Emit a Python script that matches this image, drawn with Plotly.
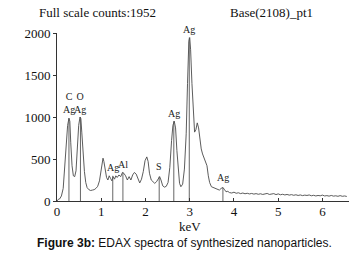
import plotly.graph_objects as go

# Spectrum (keV vs counts)
kev = [0.00, 0.03, 0.06, 0.10, 0.14, 0.18, 0.21, 0.24, 0.27, 0.29, 0.31, 0.34, 0.37, 0.40, 0.43,
       0.46, 0.49, 0.52, 0.54, 0.56, 0.59, 0.62, 0.65, 0.68, 0.72, 0.76, 0.80, 0.84, 0.88, 0.92,
       0.96, 0.99, 1.02, 1.04, 1.06, 1.09, 1.12, 1.15, 1.18, 1.21, 1.24, 1.27, 1.30, 1.33, 1.36,
       1.40, 1.44, 1.48, 1.51, 1.55, 1.59, 1.63, 1.67, 1.71, 1.75, 1.79, 1.83, 1.87, 1.91, 1.95,
       1.99, 2.03, 2.06, 2.09, 2.13, 2.17, 2.21, 2.25, 2.29, 2.32, 2.35, 2.39, 2.43, 2.47, 2.51,
       2.55, 2.59, 2.62, 2.65, 2.68, 2.71, 2.74, 2.77, 2.80, 2.84, 2.88, 2.92, 2.95, 2.98, 3.00,
       3.02, 3.05, 3.08, 3.11, 3.14, 3.17, 3.20, 3.23, 3.26, 3.29, 3.32, 3.36, 3.39, 3.42, 3.45,
       3.49, 3.53, 3.57, 3.62, 3.67, 3.71, 3.75, 3.78, 3.82, 3.86, 3.90, 3.95, 4.00, 4.05, 4.10,
       4.15, 4.20, 4.25, 4.30, 4.35, 4.40, 4.45, 4.50, 4.55, 4.60, 4.65, 4.70, 4.75, 4.80, 4.85,
       4.90, 4.95, 5.00, 5.05, 5.10, 5.15, 5.20, 5.25, 5.30, 5.35, 5.40, 5.45, 5.50, 5.55, 5.60,
       5.65, 5.70, 5.75, 5.80, 5.85, 5.90, 5.95, 6.00, 6.05, 6.10, 6.15, 6.20, 6.25, 6.30, 6.35,
       6.40, 6.45, 6.50, 6.55]
counts = [0, 20, 25, 60, 150, 420, 700, 900, 985, 950, 700, 420, 300, 290, 360,
          650, 900, 1000, 980, 820, 550, 350, 220, 160, 135, 125, 130, 135, 150, 175,
          240, 330, 470, 510, 470, 350, 280, 250, 300, 270, 240, 290, 260, 300, 280,
          310, 290, 340, 330, 300, 250, 290, 250, 310, 340, 320, 260, 215, 260, 350,
          480, 525, 470, 330, 250, 230, 210, 230, 270, 290, 250, 180, 165, 175, 220,
          400, 720, 900, 950, 870, 600, 350, 210, 170, 200, 380, 800, 1400, 1900, 1945,
          1800, 1400, 1100, 820, 850, 930, 870, 700, 620, 560, 520, 470, 420, 300, 220,
          170, 160, 150, 140, 130, 150, 160, 140, 110, 115, 100, 95, 105, 92, 98,
          88, 95, 86, 92, 84, 90, 82, 88, 80, 86, 78, 84, 90, 78, 82,
          88, 76, 85, 74, 80, 72, 78, 70, 76, 68, 74, 66, 72, 64, 70,
          66, 72, 62, 68, 60, 66, 62, 70, 60, 64, 58, 66, 58, 62, 56,
          64, 56, 60, 54]

# Peak identification markers
peak_kev = [0.27, 0.53, 1.26, 1.49, 2.31, 2.64, 2.99, 3.75]
peak_top = [985, 1000, 300, 340, 290, 950, 1945, 160]
peak_label = ["C<br>Ag", "O<br>Ag", "Ag", "Al", "S", "Ag", "Ag", "Ag"]
label_y = [1015, 1015, 320, 360, 330, 970, 1960, 200]

x_ticks = [0, 1, 2, 3, 4, 5, 6]
y_ticks = [0, 500, 1000, 1500, 2000]

serif = "Liberation Serif, Times New Roman, serif"

fig = go.Figure()
fig.add_trace(go.Scatter(x=kev, y=counts, mode="lines",
                         line=dict(color="#4a4a4a", width=0.9), hoverinfo="skip"))

vx, vy = [], []
for p, h in zip(peak_kev, peak_top):
    vx += [p, p, None]
    vy += [0, h, None]
fig.add_trace(go.Scatter(x=vx, y=vy, mode="lines",
                         line=dict(color="#555555", width=0.9), hoverinfo="skip"))

for p, ly, t in zip(peak_kev, label_y, peak_label):
    fig.add_annotation(x=p, y=ly, text=t, showarrow=False, xanchor="center",
                       yanchor="bottom", font=dict(family=serif, size=10, color="#222"),
                       borderpad=0, align="center")

fig.add_annotation(x=0.137, y=1.125, xref="paper", yref="paper", text="Full scale counts:1952",
                   showarrow=False, xanchor="center", yanchor="middle",
                   font=dict(family=serif, size=13, color="#111"))
fig.add_annotation(x=0.736, y=1.125, xref="paper", yref="paper", text="Base(2108)_pt1",
                   showarrow=False, xanchor="center", yanchor="middle",
                   font=dict(family=serif, size=13, color="#111"))
fig.add_annotation(x=3.0, y=-0.15, xref="x", yref="paper", text="keV",
                   showarrow=False, xanchor="center", yanchor="middle",
                   font=dict(family=serif, size=13, color="#111"))
fig.add_annotation(x=0.438, y=-0.25, xref="paper", yref="paper",
                   text="<b>Figure 3b:</b> EDAX spectra of synthesized nanoparticles.",
                   showarrow=False, xanchor="center", yanchor="middle",
                   font=dict(family="Liberation Sans, Arial, sans-serif", size=12, color="#111"))

fig.update_layout(
    width=360, height=255,
    margin=dict(l=57, r=11, t=33, b=54),
    paper_bgcolor="white", plot_bgcolor="white",
    showlegend=False,
    xaxis=dict(range=[0, 6.6], tickvals=x_ticks, ticks="inside", ticklen=3,
               tickcolor="#333", showline=True, linecolor="#333", linewidth=1,
               showgrid=False, zeroline=False, ticklabelstandoff=-2,
               tickfont=dict(family=serif, size=13, color="#111")),
    yaxis=dict(range=[0, 2000], tickvals=y_ticks, ticks="outside", ticklen=3,
               tickcolor="#333", showline=True, linecolor="#333", linewidth=1,
               showgrid=False, zeroline=False,
               tickfont=dict(family=serif, size=13, color="#111")),
)

fig.write_html("out.html", config={"displayModeBar": False},
               post_script="document.body.style.margin='0';")
